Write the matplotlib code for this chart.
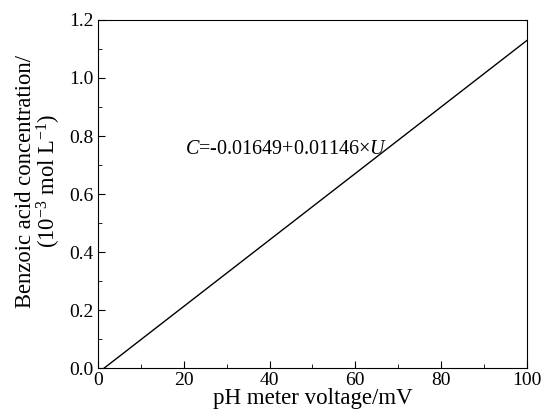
import matplotlib.pyplot as plt
from matplotlib.ticker import MultipleLocator

# fitted line (endpoints)
voltage = [1.44, 100]
concentration = [0.0, 1.1295]
fit_label = r'$\mathit{C}$=-0.01649+0.01146×$\mathit{U}$'

plt.rcParams['font.family'] = 'Liberation Serif'
plt.rcParams['mathtext.fontset'] = 'custom'
plt.rcParams['mathtext.it'] = 'Liberation Serif:italic'
plt.rcParams['mathtext.rm'] = 'Liberation Serif'

fig = plt.figure(figsize=(5.41, 4.16), dpi=100)
ax = fig.add_axes([0.181, 0.115, 0.793, 0.837])

ax.plot(voltage, concentration, color='black', linewidth=1.0)

ax.set_xlim(0, 100)
ax.set_ylim(0, 1.2)
ax.xaxis.set_major_locator(MultipleLocator(20))
ax.xaxis.set_minor_locator(MultipleLocator(10))
ax.yaxis.set_major_locator(MultipleLocator(0.2))
ax.yaxis.set_minor_locator(MultipleLocator(0.1))
ax.yaxis.set_major_formatter(plt.FormatStrFormatter('%.1f'))
ax.tick_params(which='both', direction='in', labelsize=14, top=False, right=False)
ax.tick_params(which='major', length=5, pad=3)
ax.tick_params(which='minor', length=3)

ax.text(20.3, 0.755, fit_label, fontsize=14.5, va='center', ha='left')

ax.set_xlabel('pH meter voltage/mV', fontsize=16.5, labelpad=-1)
ax.set_ylabel('Benzoic acid concentration/\n(10$^{-3}$ mol L$^{-1}$)', fontsize=16.3,
              linespacing=0.95)
ax.yaxis.set_label_coords(-0.082, 0.537)

plt.savefig('out.png', dpi=100)
